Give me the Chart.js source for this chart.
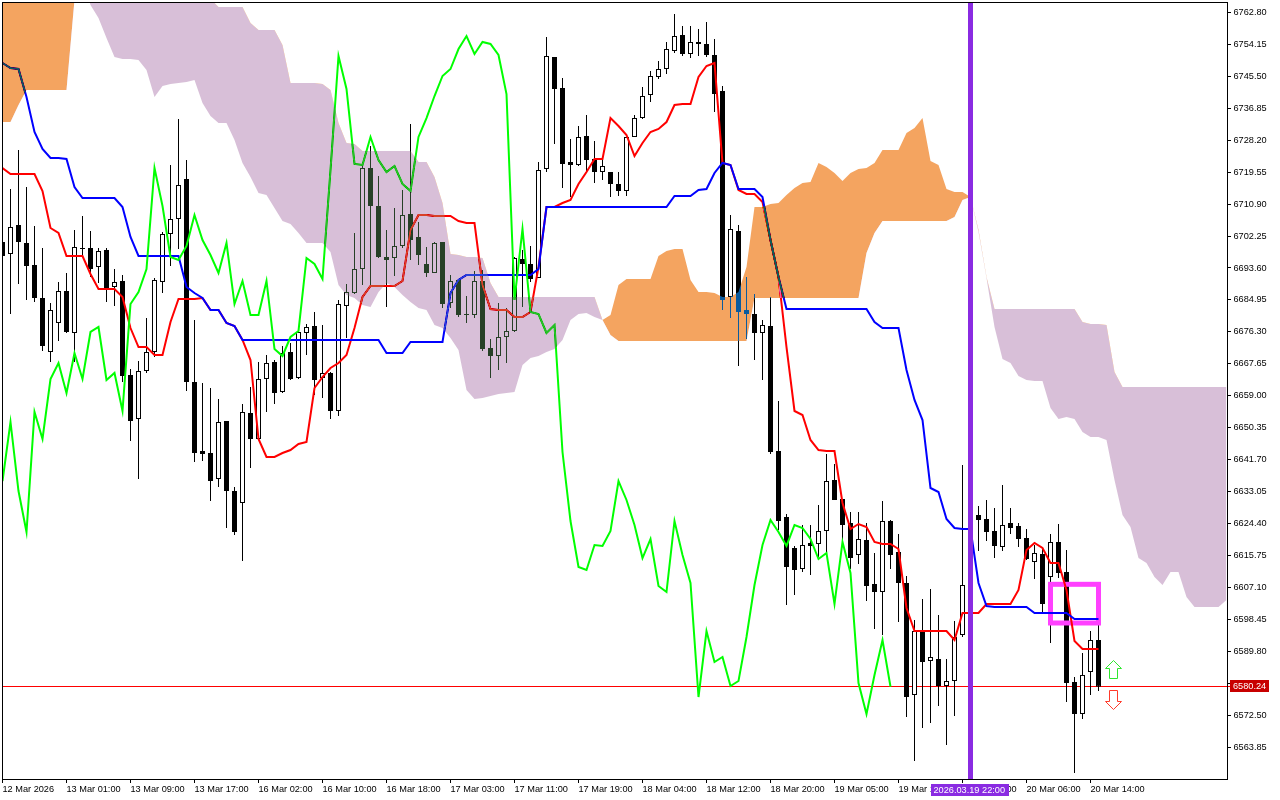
<!DOCTYPE html>
<html>
<head>
<meta charset="utf-8">
<style>html,body{margin:0;padding:0;background:#fff;overflow:hidden}canvas{display:block}</style>
<script src="https://cdn.jsdelivr.net/npm/chart.js@4"></script>
</head>
<body>
<canvas id="c" width="1280" height="800"></canvas>
<script>
const highs=[6704.42,6714.98,6725.54,6715.53,6704.97,6699.01,6684.13,6689.81,6692.25,6703.89,
6707.68,6703.62,6699.01,6699.01,6693.33,6691.71,6666.25,6668.42,6680.06,6690.89,
6703.35,6721.49,6733.93,6722.84,6679.52,6662.47,6661.11,6658.13,6652.18,6634.32,
6656.79,6661.38,6668.15,6670.05,6668.69,6672.49,6673.30,6676.28,6678.44,6681.69,
6678.17,6665.45,6684.94,6689.27,6703.08,6721.49,6726.63,6718.51,6703.89,6709.84,
6714.72,6732.58,6706.05,6699.28,6700.64,6700.64,6691.71,6690.62,6686.02,6692.79,
6693.06,6674.38,6684.13,6682.77,6696.58,6698.47,6699.56,6722.30,6756.14,6750.72,
6745.03,6728.52,6732.04,6735.02,6727.98,6723.11,6719.59,6719.59,6729.07,6735.02,
6742.60,6746.93,6749.64,6754.78,6762.36,6759.12,6759.12,6758.30,6760.20,6755.59,
6742.87,6707.95,6705.24,6691.17,6686.56,6679.52,6685.75,6657.60,6627.01,6618.35,
6624.03,6624.03,6629.45,6643.25,6640.54,6631.06,6627.55,6627.55,6624.57,6616.45,
6630.53,6625.38,6621.59,6610.23,6598.31,6603.99,6606.70,6599.67,6587.75,6598.04,
6640.27,6626.74,6629.18,6630.80,6628.63,6634.86,6628.63,6624.57,6622.94,6618.62,
6618.08,6621.59,6624.30,6617.26,6582.88,6589.38,6595.33,6597.23];
const lows=[6684.94,6681.15,6689.27,6684.94,6684.40,6671.13,6668.15,6673.84,6676.01,6668.15,
6696.85,6691.17,6689.54,6684.40,6683.32,6662.74,6646.77,6636.48,6665.18,6669.51,
6686.83,6694.15,6698.74,6660.30,6641.08,6641.35,6630.53,6634.32,6623.21,6621.32,
6614.28,6639.46,6647.31,6654.62,6656.79,6659.76,6663.28,6663.55,6670.05,6659.22,
6658.40,6652.72,6653.53,6674.65,6686.56,6689.00,6688.73,6696.31,6683.05,6691.44,
6699.01,6695.77,6694.42,6691.17,6692.25,6682.77,6682.77,6680.33,6678.71,6680.06,
6671.13,6663.82,6665.99,6667.88,6676.28,6683.05,6689.81,6690.89,6719.59,6727.17,
6715.26,6712.82,6721.22,6719.32,6716.61,6717.42,6712.82,6713.09,6713.09,6729.07,
6733.93,6738.54,6744.76,6746.12,6751.80,6750.99,6750.45,6750.99,6750.72,6735.83,
6682.23,6680.06,6667.07,6674.38,6668.69,6663.28,6643.25,6622.67,6602.37,6605.08,
6611.31,6610.50,6615.37,6616.45,6630.80,6619.70,6612.12,6613.47,6603.46,6595.87,
6594.25,6612.12,6597.77,6572.05,6560.14,6569.07,6570.43,6575.03,6564.47,6572.32,
6593.71,6606.43,6616.99,6619.70,6615.09,6616.99,6621.59,6618.08,6614.55,6609.41,
6600.21,6592.09,6609.68,6576.11,6556.89,6571.51,6578.00,6579.09];
const opens=[6700.64,6697.39,6705.24,6700.37,6694.42,6685.48,6670.86,6678.71,6687.37,6676.01,
6699.01,6699.01,6693.87,6698.47,6688.46,6690.08,6664.64,6652.72,6665.72,6670.86,
6689.81,6702.81,6706.86,6717.69,6662.74,6644.06,6643.52,6636.48,6652.18,6633.23,
6629.99,6654.35,6647.31,6663.55,6668.15,6660.03,6670.86,6663.82,6676.01,6677.89,
6663.82,6665.18,6654.89,6683.32,6686.83,6693.33,6720.67,6710.39,6696.58,6696.31,
6699.56,6708.22,6702.00,6694.69,6692.25,6700.64,6684.13,6690.35,6681.15,6680.88,
6690.08,6671.94,6669.78,6674.92,6676.55,6696.04,6694.69,6690.89,6720.40,6750.72,
6742.32,6722.30,6721.49,6729.34,6723.11,6719.59,6719.59,6716.34,6714.45,6729.07,
6734.20,6740.43,6745.31,6747.47,6752.34,6756.68,6751.53,6754.78,6754.24,6751.26,
6741.52,6685.75,6703.62,6682.23,6681.15,6676.01,6677.89,6644.06,6626.20,6617.80,
6612.12,6619.15,6618.88,6622.40,6636.21,6631.06,6624.57,6615.91,6619.97,6608.06,
6605.89,6625.11,6616.72,6608.33,6578.00,6595.33,6587.21,6587.75,6580.44,6581.80,
6594.25,6607.79,6626.74,6625.65,6622.40,6618.08,6624.57,6623.76,6620.51,6614.01,
6616.18,6609.95,6619.43,6611.31,6581.53,6572.86,6584.24,6592.90];
const closes=[6696.85,6704.70,6700.64,6694.15,6685.48,6672.49,6682.23,6687.37,6676.28,6699.28,
6698.74,6693.33,6698.20,6687.91,6689.81,6664.37,6652.18,6665.72,6670.86,6690.35,
6702.81,6706.86,6716.07,6662.74,6643.52,6643.25,6635.94,6651.91,6633.23,6622.13,
6654.62,6647.31,6663.55,6667.88,6659.76,6670.59,6663.55,6676.28,6677.63,6663.28,
6665.18,6654.89,6683.86,6687.10,6693.33,6720.67,6710.39,6696.58,6695.77,6699.56,
6707.95,6701.18,6697.12,6692.25,6700.37,6683.86,6690.08,6680.88,6680.88,6690.08,
6671.67,6669.78,6674.92,6676.55,6696.31,6694.69,6690.62,6720.13,6750.99,6742.06,
6721.76,6721.49,6729.07,6722.84,6719.59,6721.22,6716.34,6714.45,6729.07,6734.20,
6740.16,6745.58,6747.47,6752.88,6756.40,6751.53,6754.78,6754.24,6751.26,6740.70,
6684.94,6704.16,6681.69,6681.15,6676.01,6678.17,6643.79,6625.11,6612.66,6611.85,
6618.62,6618.35,6622.40,6635.94,6630.80,6624.03,6615.09,6620.24,6607.52,6605.89,
6625.11,6615.91,6608.33,6577.46,6595.33,6586.94,6588.29,6580.44,6581.80,6593.71,
6607.79,6618.62,6625.38,6622.13,6618.35,6624.03,6623.21,6620.24,6614.82,6616.45,
6602.65,6619.43,6611.04,6581.26,6572.86,6583.43,6592.90,6580.24];
const tenkan=[6720.67,6719.05,6719.05,6719.05,6719.05,6714.45,6704.43,6703.08,6696.85,6696.85,
6696.85,6691.98,6687.91,6687.91,6687.91,6685.75,6677.35,6672.21,6672.21,6670.05,
6670.05,6678.98,6685.21,6685.21,6685.21,6685.48,6682.23,6682.23,6678.71,6677.89,
6674.11,6668.69,6647.31,6642.44,6642.44,6643.52,6644.33,6645.95,6646.50,6661.11,
6664.09,6666.53,6667.88,6670.05,6677.35,6685.75,6688.73,6688.73,6688.73,6688.73,
6690.08,6703.89,6707.95,6707.95,6707.68,6707.68,6707.68,6706.32,6705.78,6705.78,
6689.00,6682.50,6682.23,6682.23,6680.33,6680.33,6681.69,6693.87,6710.11,6710.11,
6711.20,6712.01,6716.34,6719.59,6723.11,6723.11,6734.20,6732.04,6729.60,6723.92,
6727.44,6730.42,6731.23,6733.12,6737.73,6738.00,6738.00,6745.31,6748.28,6749.10,
6722.03,6721.49,6714.72,6713.63,6713.63,6711.47,6701.18,6691.17,6672.21,6654.89,
6653.81,6647.04,6644.33,6644.06,6644.06,6629.99,6622.94,6624.30,6623.49,6619.43,
6618.88,6618.88,6617.53,6601.56,6595.33,6595.33,6595.33,6595.33,6595.33,6592.90,
6600.21,6600.21,6600.21,6602.65,6602.65,6602.65,6602.65,6606.43,6617.26,6619.15,
6617.80,6613.74,6613.74,6606.43,6592.63,6590.46,6590.46,6590.46];
const kijun=[6749.10,6747.74,6747.47,6739.89,6730.42,6725.81,6723.38,6723.38,6723.11,6715.53,
6712.55,6712.55,6712.55,6712.55,6712.55,6710.11,6702.00,6696.85,6696.85,6696.85,
6696.85,6696.85,6696.85,6688.46,6686.83,6685.48,6682.23,6682.23,6678.71,6677.89,
6674.11,6674.11,6674.11,6674.11,6674.11,6674.11,6674.11,6674.11,6674.11,6674.11,
6674.11,6674.11,6674.11,6674.11,6674.11,6674.11,6674.11,6674.11,6670.59,6670.59,
6670.59,6673.57,6673.57,6673.57,6673.57,6673.57,6686.83,6690.35,6691.71,6691.71,
6691.71,6691.71,6691.71,6691.71,6691.71,6691.71,6691.71,6693.33,6710.11,6710.11,
6710.11,6710.11,6710.11,6710.11,6710.11,6710.11,6710.11,6710.11,6710.11,6710.11,
6710.11,6710.11,6710.11,6710.11,6713.09,6713.09,6713.09,6714.72,6714.99,6719.32,
6722.03,6721.49,6714.99,6714.99,6714.99,6712.82,6701.18,6691.17,6682.50,6682.50,
6682.50,6682.50,6682.50,6682.50,6682.50,6682.50,6682.50,6682.50,6682.50,6678.98,
6677.35,6677.35,6677.35,6665.99,6657.87,6652.45,6634.04,6632.96,6625.65,6623.21,
6622.94,6622.94,6608.33,6602.10,6601.83,6601.83,6601.83,6601.83,6601.83,6600.21,
6600.21,6600.21,6600.21,6600.21,6598.58,6598.58,6598.58,6598.58];
const chikou=[6635.94,6651.91,6633.23,6622.13,6654.62,6647.31,6663.55,6667.88,6659.76,6670.59,
6663.55,6676.28,6677.63,6663.28,6665.18,6654.89,6683.86,6687.10,6693.33,6720.67,
6710.39,6696.58,6695.77,6699.56,6707.95,6701.18,6697.12,6692.25,6700.37,6683.86,
6690.08,6680.88,6680.88,6690.08,6671.67,6669.78,6674.92,6676.55,6696.31,6694.69,
6690.62,6720.13,6750.99,6742.06,6721.76,6721.49,6729.07,6722.84,6719.59,6721.22,
6716.34,6714.45,6729.07,6734.20,6740.16,6745.58,6747.47,6752.88,6756.40,6751.53,
6754.78,6754.24,6751.26,6740.70,6684.94,6704.16,6681.69,6681.15,6676.01,6678.17,
6643.79,6625.11,6612.66,6611.85,6618.62,6618.35,6622.40,6635.94,6630.80,6624.03,
6615.09,6620.24,6607.52,6605.89,6625.11,6615.91,6608.33,6577.46,6595.33,6586.94,
6588.29,6580.44,6581.80,6593.71,6607.79,6618.62,6625.38,6622.13,6618.35,6624.03,
6623.21,6620.24,6614.82,6616.45,6602.65,6619.43,6611.04,6581.26,6572.86,6583.43,
6592.90,6580.24];
const spanA=[6779.69,6779.69,6779.69,6779.69,6779.69,6779.69,6779.69,6779.69,6779.69,6779.69,
6771.56,6764.80,6761.28,6755.86,6750.72,6750.18,6750.18,6749.91,6747.20,6739.89,
6742.87,6743.41,6743.68,6743.95,6744.49,6738.27,6734.75,6732.85,6732.85,6728.25,
6722.03,6718.24,6713.90,6713.36,6709.84,6706.32,6705.51,6703.08,6700.37,6700.37,
6700.37,6697.93,6689.00,6686.29,6685.48,6683.58,6683.05,6687.10,6689.54,6688.46,
6686.29,6684.40,6682.77,6682.23,6678.17,6677.35,6674.65,6671.40,6660.57,6658.13,
6658.40,6658.95,6659.49,6659.76,6660.03,6667.34,6669.24,6669.78,6670.86,6671.67,
6674.11,6679.52,6681.15,6681.42,6680.33,6679.52,6680.88,6689.00,6690.62,6690.62,
6690.62,6690.62,6696.85,6698.20,6698.74,6698.74,6690.35,6687.10,6687.10,6686.83,
6685.75,6685.75,6687.10,6693.87,6710.11,6710.11,6710.93,6711.20,6713.36,6715.26,
6716.61,6716.88,6722.03,6720.94,6719.32,6717.15,6719.32,6720.40,6720.67,6722.03,
6725.54,6725.54,6725.54,6730.15,6731.50,6734.20,6722.57,6721.49,6714.99,6714.17,
6714.17,6712.82,6703.35,6690.89,6677.63,6668.96,6667.88,6664.37,6663.28,6663.01,
6663.01,6655.70,6652.72,6653.26,6652.72,6649.20,6647.85,6647.85,6647.04,6636.21,
6626.74,6623.49,6615.09,6613.74,6609.95,6607.79,6611.31,6611.31,6604.54,6601.83,
6601.83,6601.83,6601.83,6603.73];
const spanB=[6733.12,6733.12,6737.73,6741.79,6741.79,6741.79,6741.79,6741.79,6741.79,6766.15,
6774.27,6776.98,6776.98,6776.98,6776.98,6776.98,6776.98,6776.98,6776.98,6776.98,
6776.98,6776.98,6776.98,6776.98,6776.98,6776.98,6766.42,6764.26,6764.26,6764.26,
6764.26,6759.92,6758.03,6758.03,6758.03,6753.97,6743.68,6743.68,6743.68,6743.68,
6743.41,6741.79,6732.85,6727.44,6727.17,6725.27,6725.27,6725.27,6725.27,6725.27,
6725.27,6725.27,6722.30,6722.30,6718.24,6711.20,6697.39,6697.12,6696.58,6696.58,
6696.31,6689.54,6685.75,6685.75,6685.75,6685.75,6685.75,6685.75,6685.75,6685.75,
6685.75,6685.75,6685.75,6685.75,6685.75,6679.52,6675.46,6673.84,6673.84,6673.84,
6673.84,6673.84,6673.84,6673.84,6673.84,6673.84,6673.84,6673.84,6673.84,6673.84,
6673.84,6673.84,6673.84,6673.84,6685.48,6685.48,6685.48,6685.48,6685.48,6685.48,
6685.48,6685.48,6685.48,6685.48,6685.48,6685.48,6685.48,6685.48,6697.66,6703.08,
6706.32,6706.32,6706.32,6706.32,6706.32,6706.32,6706.32,6706.32,6706.32,6707.41,
6712.01,6712.82,6703.89,6691.17,6682.50,6682.50,6682.50,6682.50,6682.50,6682.50,
6682.50,6682.50,6682.50,6682.50,6682.50,6678.98,6678.44,6678.44,6678.17,6665.45,
6661.38,6661.38,6661.38,6661.38,6661.38,6661.38,6661.38,6661.38,6661.38,6661.38,
6661.38,6661.38,6661.38,6661.38];
const priceTicks=[6563.85,6572.50,6581.15,6589.80,6598.45,6607.10,6615.75,6624.40,6633.05,6641.70,6650.35,6659.00,6667.65,6676.30,6684.95,6693.60,6702.25,6710.90,6719.55,6728.20,6736.85,6745.50,6754.15,6762.80];
const timeTickIndex=[0,8,16,24,32,40,48,56,64,72,80,88,96,104,112,120,128,136];
const timeTickLabels=["12 Mar 2026","13 Mar 01:00","13 Mar 09:00","13 Mar 17:00","16 Mar 02:00","16 Mar 10:00","16 Mar 18:00","17 Mar 03:00","17 Mar 11:00","17 Mar 19:00","18 Mar 04:00","18 Mar 12:00","18 Mar 20:00","19 Mar 05:00","19 Mar 13:00","19 Mar 21:00","20 Mar 06:00","20 Mar 14:00"];
const lastPrice=6580.24;
const markerIndex=121, markerLabel="2026.03.19 22:00";
const boxIndex=[131,137], boxPrice=[6607.97,6597.50];
const arrowIndex=139, arrowUpPrice=6587.29, arrowDownPrice=6574.14;

const FONT='"Liberation Sans"';
const pts=a=>a.map((v,i)=>({x:i,y:v}));
const lineSet=(label,data,color,order)=>({type:'line',label,data:pts(data),borderColor:color,borderWidth:2,pointRadius:0,tension:0,fill:false,order});

const overlay={
  id:'overlay',
  beforeDraw(c){
    const g=c.ctx;
    g.save();g.globalCompositeOperation='source-over';g.fillStyle='#fff';g.fillRect(0,0,c.width,c.height);g.restore();
  },
  beforeDatasetsDraw(c){
    const g=c.ctx,a=c.chartArea,y=c.scales.y;
    g.save();g.fillStyle='#ff0000';
    g.fillRect(a.left,Math.floor(y.getPixelForValue(lastPrice)),a.right-a.left+3,1);
    g.restore();
  },
  afterDatasetDraw(c,args){
    const g=c.ctx,label=c.data.datasets[args.index].label;
    if(label==='bodies'){
      const x=c.scales.x,y=c.scales.y;
      g.save();g.strokeStyle='#ff40ff';g.lineWidth=5;
      const l=x.getPixelForValue(boxIndex[0]),r=x.getPixelForValue(boxIndex[1]),t=y.getPixelForValue(boxPrice[0]),b=y.getPixelForValue(boxPrice[1]);
      g.strokeRect(l,t,r-l,b-t);
      g.restore();
    }
    if(label==='spanB') g.globalCompositeOperation='difference';
    if(label==='spanA') g.globalCompositeOperation='source-over';
  },
  afterDatasetsDraw(c){
    const g=c.ctx,a=c.chartArea,x=c.scales.x,y=c.scales.y;
    g.save();
    const mx=x.getPixelForValue(markerIndex);
    g.fillStyle='#8a2be2';
    g.fillRect(mx-2.5,a.top,5,a.bottom-a.top);
    const ax=Math.floor(x.getPixelForValue(arrowIndex))-0.5;
    const up=Math.floor(y.getPixelForValue(arrowUpPrice))+0.5;
    const dn=Math.floor(y.getPixelForValue(arrowDownPrice))+0.5;
    const poly=(p,ox,oy,stroke)=>{g.beginPath();p.forEach((q,i)=>i?g.lineTo(ox+q[0],oy+q[1]):g.moveTo(ox+q[0],oy+q[1]));g.closePath();g.fillStyle='#fff';g.fill();g.strokeStyle=stroke;g.lineWidth=1;g.stroke();};
    poly([[0,0],[8,8],[4,8],[4,18],[-4,18],[-4,8],[-8,8]],ax,up,'#2ee62e');
    poly([[0,0],[8,-8],[4,-8],[4,-19],[-4,-19],[-4,-8],[-8,-8]],ax,dn,'#ff3a2a');
    g.fillStyle='#000';
    g.fillRect(a.left,a.top,a.right-a.left+1,1);
    g.fillRect(a.left,a.bottom,a.right-a.left+1,1);
    g.fillRect(a.left,a.top,1,a.bottom-a.top);
    g.fillRect(a.right,a.top,1,a.bottom-a.top);
    g.restore();
  },
  afterDraw(c){
    const g=c.ctx,y=c.scales.y;
    g.save();
    g.font='9.2px '+FONT;g.textBaseline='middle';g.textAlign='left';
    const ly=Math.floor(y.getPixelForValue(lastPrice));
    g.fillStyle='#c80000';g.fillRect(1230,ly-6,39,12);
    g.fillStyle='#fff';g.fillText(lastPrice.toFixed(2),1233,ly+0.5);
    g.fillStyle='#8a2be2';g.fillRect(931,784,78,12);
    g.fillStyle='#fff';g.fillText(markerLabel,933.5,790.5);
    g.restore();
  }
};

new Chart(document.getElementById('c'),{
  type:'bar',
  data:{datasets:[
    {label:'wicks',data:highs.map((h,i)=>({x:i,y:[lows[i],h]})),backgroundColor:'#000',borderWidth:0,barThickness:1,grouped:false,inflateAmount:0,order:8},
    {label:'bodies',data:opens.map((o,i)=>({x:i,y:[Math.min(o,closes[i]),Math.max(o,closes[i])]})),
      backgroundColor:opens.map((o,i)=>closes[i]<o?'#000':'#fff'),borderColor:'#000',borderWidth:1,borderSkipped:false,barThickness:5,grouped:false,inflateAmount:0,order:7},
    lineSet('tenkan',tenkan,'#ff0000',5),
    lineSet('kijun',kijun,'#0000ff',4),
    lineSet('chikou',chikou,'#00ff00',3),
    {type:'line',label:'spanA',data:pts(spanA),borderColor:'transparent',borderWidth:0,pointRadius:0,tension:0,order:1,
      fill:{target:'+1',above:'#0b5b9f',below:'#274027'}},
    {type:'line',label:'spanB',data:pts(spanB),borderColor:'transparent',borderWidth:0,pointRadius:0,tension:0,order:2,fill:false}
  ]},
  options:{
    responsive:false,animation:false,events:[],
    layout:{padding:{left:2,top:2,right:0,bottom:0}},
    plugins:{legend:{display:false},tooltip:{enabled:false},title:{display:false}},
    scales:{
      x:{type:'linear',position:'bottom',offset:false,min:-0.0625,max:153.0625,
        afterFit(s){s.height=21;s.paddingLeft=0;s.paddingRight=0;},
        afterBuildTicks(s){s.ticks=timeTickIndex.map(v=>({value:v}));},
        border:{display:false},
        grid:{display:true,offset:false,drawOnChartArea:false,drawTicks:true,tickLength:4,tickColor:'#000'},
        ticks:{autoSkip:false,maxRotation:0,minRotation:0,align:'start',padding:1,color:'#000',font:{family:FONT,size:9.2},
          callback:v=>timeTickLabels[timeTickIndex.indexOf(v)]}
      },
      y:{type:'linear',position:'right',min:6555.267,max:6765.6086,
        afterFit(s){s.width=53;s.paddingTop=0;s.paddingBottom=0;},
        afterBuildTicks(s){s.ticks=priceTicks.map(v=>({value:v}));},
        border:{display:false},
        grid:{display:true,drawOnChartArea:false,drawTicks:true,tickLength:4,tickColor:'#000'},
        ticks:{padding:2.5,color:'#000',font:{family:FONT,size:9.2},callback:v=>v.toFixed(2)}
      }
    }
  },
  plugins:[overlay]
});
</script>
</body>
</html>
